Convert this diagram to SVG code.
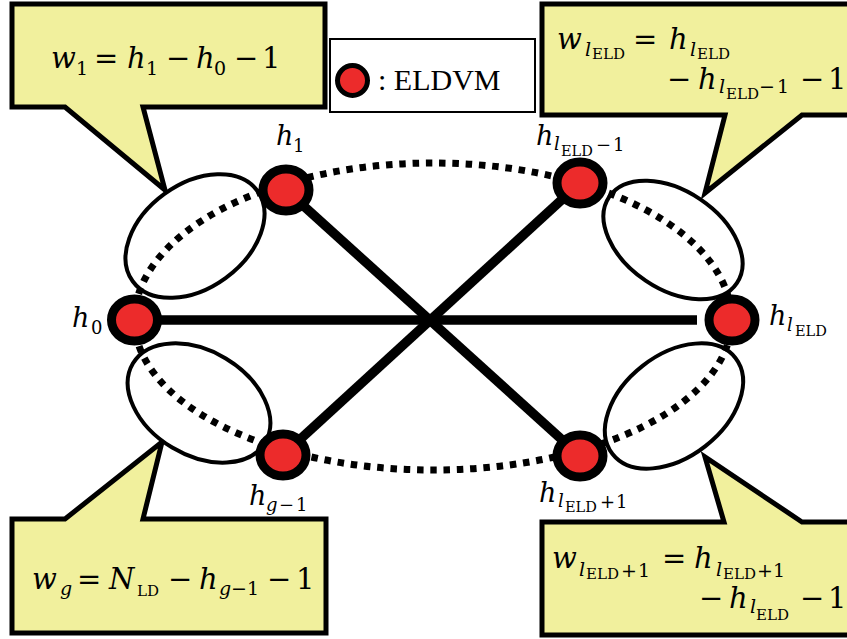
<svg xmlns="http://www.w3.org/2000/svg" width="847" height="639" viewBox="0 0 847 639">
<style>
.callout{fill:#f1f09d;stroke:#000;stroke-width:5;stroke-linejoin:miter}
.group{fill:#fff;stroke:#000;stroke-width:4}
.dot{fill:none;stroke:#000;stroke-width:7;stroke-dasharray:6.5 6.8}
.edge{stroke:#000;stroke-width:9.5;stroke-linecap:butt}
.node{fill:#ec2b2b;stroke:#000;stroke-width:9}
.t{font-family:"DejaVu Serif",serif;font-size:29px;fill:#000}
.lb{font-family:"DejaVu Serif",serif;font-size:27px;fill:#000}
.i{font-style:italic}
.s{font-size:19px}
.ss{font-size:15px}
.ls{font-size:18px}
.lss{font-size:14.5px}
</style>
<rect width="847" height="639" fill="#fff"/>

<g id="callout-w1">
<path class="callout" d="M12,4 H325 V107 H143 L165,190 L65,107 H12 Z"/>
<text class="t" y="68"><tspan class="i" x="51">w</tspan><tspan class="s" x="76" y="75">1</tspan><tspan x="94" y="68">=</tspan><tspan class="i" x="127">h</tspan><tspan class="s" x="146" y="75">1</tspan><tspan x="166" y="68">−</tspan><tspan class="i" x="196">h</tspan><tspan class="s" x="214" y="75">0</tspan><tspan x="234" y="68">−</tspan><tspan x="262">1</tspan></text>
</g>

<g id="callout-wlELD">
<path class="callout" d="M542,4 H862 V115 H802 L705,193 L725,115 H542 Z"/>
<text class="t" y="49"><tspan class="i" x="557">w</tspan><tspan class="i s" x="585" y="56">l</tspan><tspan class="ss" x="592" y="59">ELD</tspan><tspan x="633" y="49">=</tspan><tspan class="i" x="669">h</tspan><tspan class="i s" x="690" y="56">l</tspan><tspan class="ss" x="697" y="59">ELD</tspan></text>
<text class="t" y="89"><tspan x="667">−</tspan><tspan class="i" x="698">h</tspan><tspan class="i s" x="719" y="93">l</tspan><tspan class="ss" x="726" y="99">ELD</tspan><tspan class="s" x="759" y="93">−</tspan><tspan class="s" x="777" y="93">1</tspan><tspan x="800" y="89">−</tspan><tspan x="828">1</tspan></text>
</g>

<g id="callout-wg">
<path class="callout" d="M12,519 H65 L162,442 L143,519 H326 V633 H12 Z"/>
<text class="t" y="589"><tspan class="i" x="32">w</tspan><tspan class="i s" x="60" y="595">g</tspan><tspan x="77" y="589">=</tspan><tspan class="i" x="109">N</tspan><tspan class="ss" x="137" y="596" font-size="17">LD</tspan><tspan x="168" y="589">−</tspan><tspan class="i" x="199">h</tspan><tspan class="i s" x="219" y="595">g</tspan><tspan class="s" x="231" y="595">−</tspan><tspan class="s" x="247" y="595">1</tspan><tspan x="267" y="589">−</tspan><tspan x="296">1</tspan></text>
</g>

<g id="callout-wlELD1">
<path class="callout" d="M542,522 H724 L705,457 L802,522 H862 V635 H542 Z"/>
<text class="t" y="568"><tspan class="i" x="552">w</tspan><tspan class="i s" x="579" y="576">l</tspan><tspan class="ss" x="586" y="579">ELD</tspan><tspan class="s" x="621" y="577">+</tspan><tspan class="s" x="638">1</tspan><tspan x="662" y="568">=</tspan><tspan class="i" x="694">h</tspan><tspan class="i s" x="716" y="576">l</tspan><tspan class="ss" x="723" y="579">ELD</tspan><tspan class="s" x="757" y="577">+</tspan><tspan class="s" x="773">1</tspan></text>
<text class="t" y="608"><tspan x="699">−</tspan><tspan class="i" x="729">h</tspan><tspan class="i s" x="750" y="613">l</tspan><tspan class="ss" x="756" y="620">ELD</tspan><tspan x="800" y="608">−</tspan><tspan x="828">1</tspan></text>
</g>

<g id="legend">
<rect x="330" y="39" width="205" height="73" fill="#fff" stroke="#000" stroke-width="2"/>
<circle cx="352.5" cy="80.5" r="15" fill="#ec2b2b" stroke="#000" stroke-width="5"/>
<text x="378" y="90" font-family="Liberation Serif, serif" font-size="30">: ELDVM</text>
</g>

<g id="groups">
<ellipse id="group-1" class="group" cx="195" cy="236" rx="77" ry="52" transform="rotate(-36 195 236)"/>
<ellipse id="group-g" class="group" cx="199" cy="403" rx="77" ry="52" transform="rotate(31 199 403)"/>
<ellipse id="group-lELD" class="group" cx="673" cy="240" rx="77" ry="49" transform="rotate(34 673 240)"/>
<ellipse id="group-lELD1" class="group" cx="674" cy="406" rx="78" ry="51" transform="rotate(-38 674 406)"/>
</g>

<g id="connectors">
<path class="dot" d="M134.5,320 A298.5,157 0 0 1 731.5,320"/>
<path class="dot" d="M134.5,320 A298.5,150 0 0 0 731.5,320"/>
<line class="edge" x1="134" y1="320" x2="697" y2="320"/>
<line class="edge" x1="286" y1="190" x2="580" y2="456"/>
<line class="edge" x1="283" y1="455" x2="580" y2="183"/>
</g>

<g id="node-h1"><ellipse class="node" cx="286" cy="190" rx="23" ry="21"/>
<text class="lb" y="145"><tspan class="i" x="276">h</tspan><tspan class="ls" x="293" y="152">1</tspan></text></g>
<g id="node-h0"><ellipse class="node" cx="134.5" cy="320" rx="23" ry="21"/>
<text class="lb" y="327"><tspan class="i" x="72">h</tspan><tspan class="ls" x="91" y="334">0</tspan></text></g>
<g id="node-hlELD-1"><ellipse class="node" cx="580" cy="183" rx="23" ry="21"/>
<text class="lb" y="145"><tspan class="i" x="536">h</tspan><tspan class="i ls" x="554" y="150">l</tspan><tspan class="lss" x="561" y="156">ELD</tspan><tspan class="ls" x="596" y="151">−</tspan><tspan class="ls" x="613" y="151">1</tspan></text></g>
<g id="node-hlELD"><ellipse class="node" cx="732" cy="320" rx="23" ry="21"/>
<text class="lb" y="325"><tspan class="i" x="769">h</tspan><tspan class="i ls" x="787" y="331">l</tspan><tspan class="lss" x="795" y="336">ELD</tspan></text></g>
<g id="node-hg-1"><ellipse class="node" cx="283" cy="455" rx="23" ry="21"/>
<text class="lb" y="505"><tspan class="i" x="249">h</tspan><tspan class="i ls" x="266" y="511">g</tspan><tspan class="ls" x="279" y="511">−</tspan><tspan class="ls" x="296" y="511">1</tspan></text></g>
<g id="node-hlELD1"><ellipse class="node" cx="580" cy="456" rx="23" ry="21"/>
<text class="lb" y="502"><tspan class="i" x="539">h</tspan><tspan class="i ls" x="558" y="507">l</tspan><tspan class="lss" x="565" y="512">ELD</tspan><tspan class="ls" x="600" y="508">+</tspan><tspan class="ls" x="616" y="508">1</tspan></text></g>
</svg>
